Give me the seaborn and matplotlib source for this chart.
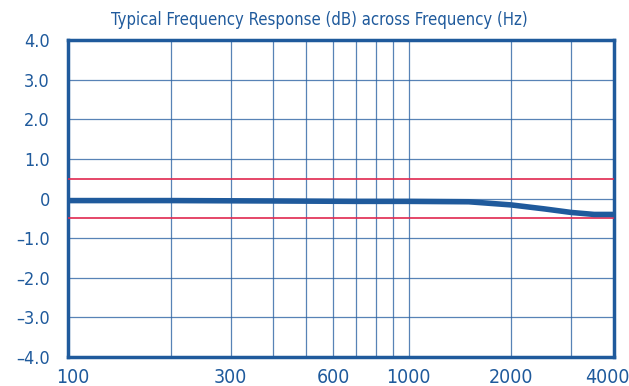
import numpy as np
import pandas as pd
import seaborn as sns
import matplotlib.pyplot as plt
import matplotlib.transforms as mtransforms
from matplotlib.ticker import FixedLocator, NullFormatter

# valores
freq_hz = [100, 200, 400, 700, 1000, 1500, 2000, 2500, 3000, 3500, 4000]
response_db = [-0.05, -0.05, -0.06, -0.07, -0.07, -0.08, -0.16, -0.26, -0.35, -0.40, -0.40]
limits_db = [0.5, -0.5]

major_x = [100, 300, 600, 1000, 2000, 4000]
minor_x = [200, 400, 500, 700, 800, 900, 3000]
y_ticks = [4, 3, 2, 1, 0, -1, -2, -3, -4]
y_labels = ["4.0", "3.0", "2.0", "1.0", "0", "\u20131.0", "\u20132.0", "\u20133.0", "\u20134.0"]

BLUE = "#1f5a9c"
GRID = "#2e64a4"
RED = "#e0284f"

df = pd.DataFrame({"freq": freq_hz, "db": response_db})

sns.set_style("white")
plt.rcParams["font.family"] = ["DejaVu Sans"]
plt.rcParams["font.stretch"] = "condensed"

fig = plt.figure(figsize=(6.29, 3.86), dpi=100)
ax = fig.add_axes([0.108, 0.075, 0.868, 0.821])

sns.lineplot(data=df, x="freq", y="db", color=BLUE, linewidth=4, ax=ax, zorder=5)

for lim in limits_db:
    ax.axhline(lim, color=RED, linewidth=1.2, zorder=3)

ax.set_xscale("log")
ax.set_xlim(100, 4000)
ax.set_ylim(-4, 4)

ax.xaxis.set_major_locator(FixedLocator(major_x))
ax.set_xticklabels([str(v) for v in major_x])
ax.xaxis.set_minor_locator(FixedLocator(minor_x))
ax.xaxis.set_minor_formatter(NullFormatter())
ax.set_yticks(y_ticks)
ax.set_yticklabels(y_labels)

ax.grid(True, which="both", color=GRID, linewidth=0.9, alpha=0.8, zorder=1)
ax.tick_params(axis="both", which="both", length=0, colors=BLUE)
ax.tick_params(axis="x", pad=8, labelsize=14)
ax.tick_params(axis="y", pad=13, labelsize=13)

# primeiro e último rótulos deslocados para dentro
xlabels = ax.get_xticklabels()
xlabels[0].set_transform(xlabels[0].get_transform() +
                         mtransforms.ScaledTranslation(5 / 100, 0, fig.dpi_scale_trans))
xlabels[-1].set_transform(xlabels[-1].get_transform() +
                          mtransforms.ScaledTranslation(-7 / 100, 0, fig.dpi_scale_trans))

for side in ax.spines.values():
    side.set_color(BLUE)
    side.set_linewidth(2.5)

ax.set_xlabel("")
ax.set_ylabel("")
fig.text(319 / 629, 1 - 20 / 386, "Typical Frequency Response (dB) across Frequency (Hz)",
         color=BLUE, fontsize=12, ha="center", va="center")

fig.savefig("out.png", dpi=100)
